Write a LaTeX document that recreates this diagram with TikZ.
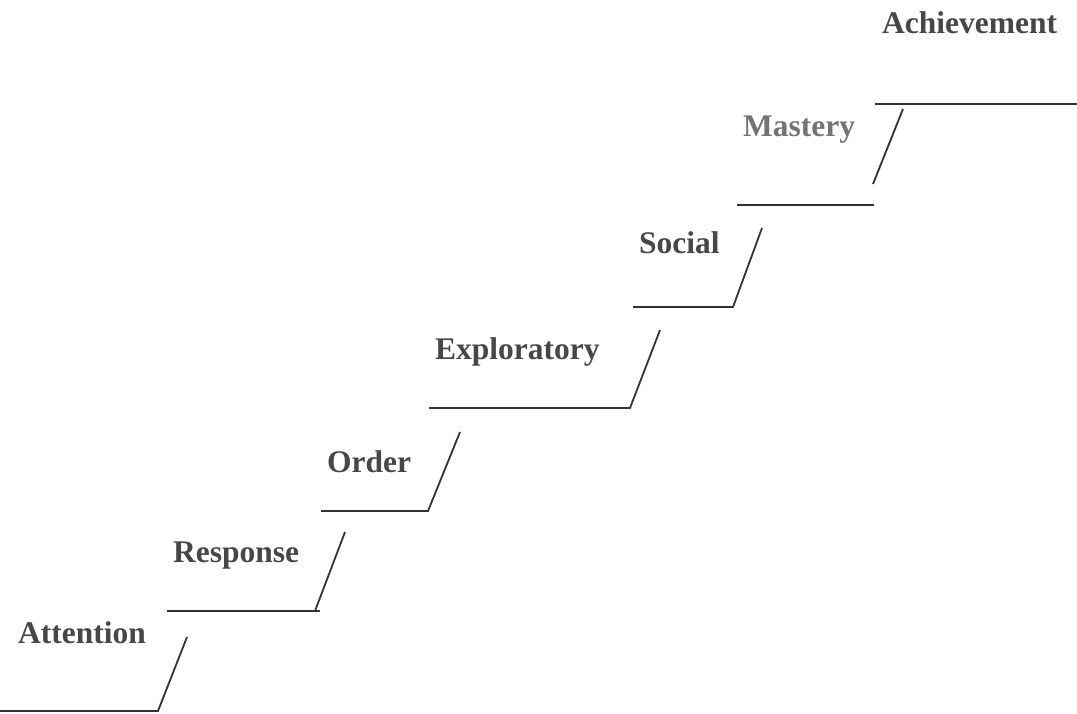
\documentclass[tikz,border=0pt]{standalone}
\usepackage{fontspec}
\setmainfont{Liberation Serif}
\begin{document}
\begin{tikzpicture}[x=1pt,y=-1pt,
  lbl/.style={font=\fontsize{31.5}{36}\selectfont\bfseries, text=black!72, inner sep=0pt, anchor=base west},
  stair/.style={draw=black!80, line width=1.8pt}]
\useasboundingbox (0,0) rectangle (1077,713);
% labels
\node[lbl] (att) at (18,643) {Attention};
\node[lbl] (res) at (173,562) {Response};
\node[lbl] (ord) at (327,472) {Order};
\node[lbl] (exp) at (435,359) {Exploratory};
\node[lbl] (soc) at (639,253) {Social};
\node[lbl, text=black!55] (mas) at (743,136) {Mastery};
\node[lbl] (ach) at (882,33) {Achievement};
% stair coordinates
\coordinate (h1a) at (0,711);   \coordinate (h1b) at (158,711);
\coordinate (d1b) at (187,637);
\coordinate (h2a) at (167,611); \coordinate (h2b) at (320,611);
\coordinate (d2a) at (315,611); \coordinate (d2b) at (345,532);
\coordinate (h3a) at (321,511); \coordinate (h3b) at (428,511);
\coordinate (d3b) at (460,432);
\coordinate (h4a) at (429,408); \coordinate (h4b) at (630,408);
\coordinate (d4b) at (660,330);
\coordinate (h5a) at (633,307); \coordinate (h5b) at (733,307);
\coordinate (d5b) at (762,228);
\coordinate (h6a) at (737,205); \coordinate (h6b) at (874,205);
\coordinate (d6a) at (873,184); \coordinate (d6b) at (903,109);
\coordinate (h7a) at (875,104); \coordinate (h7b) at (1077,104);
% stairs
\draw[stair] (h1a) -- (h1b) -- (d1b);
\draw[stair] (h2a) -- (h2b);
\draw[stair] (d2a) -- (d2b);
\draw[stair] (h3a) -- (h3b) -- (d3b);
\draw[stair] (h4a) -- (h4b) -- (d4b);
\draw[stair] (h5a) -- (h5b) -- (d5b);
\draw[stair] (h6a) -- (h6b);
\draw[stair] (d6a) -- (d6b);
\draw[stair] (h7a) -- (h7b);
\end{tikzpicture}
\end{document}
